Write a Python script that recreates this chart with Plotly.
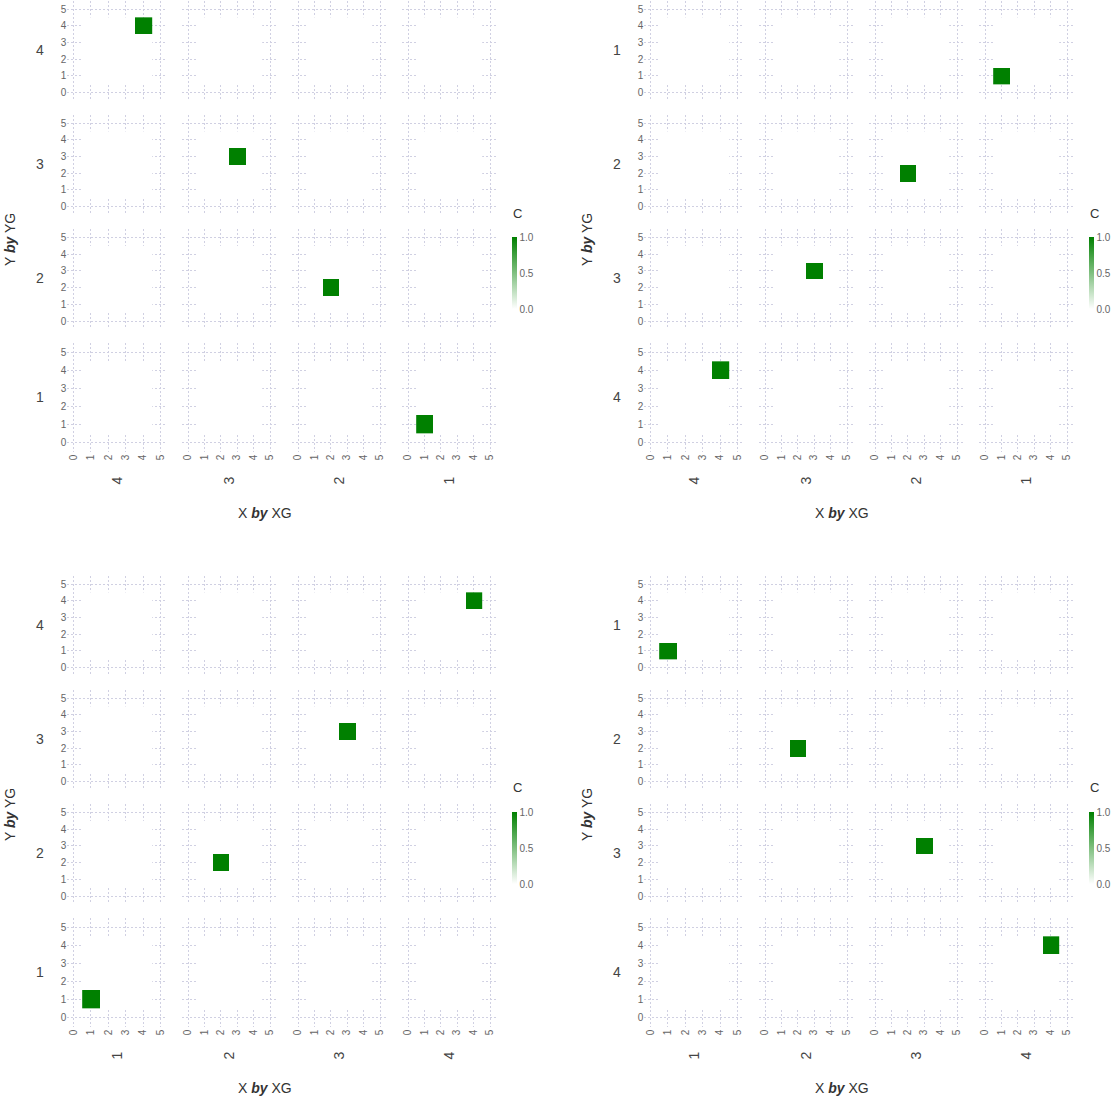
import plotly.graph_objects as go

# ---------------- data ----------------
GROUPS = [1, 2, 3, 4]
X = [1, 2, 3, 4]
Y = [1, 2, 3, 4]
XG = [1, 2, 3, 4]
YG = [1, 2, 3, 4]
C = [1.0, 1.0, 1.0, 1.0]
AXIS_TICKS = [0, 1, 2, 3, 4, 5]
CBAR_TICKS = [0.0, 0.5, 1.0]
CBAR_TEXT = ["0.0", "0.5", "1.0"]

# facet orders per panel (TL, TR, BL, BR)
PANEL_COL_ORDER = [[4, 3, 2, 1], [4, 3, 2, 1], [1, 2, 3, 4], [1, 2, 3, 4]]
PANEL_ROW_ORDER = [[4, 3, 2, 1], [1, 2, 3, 4], [4, 3, 2, 1], [1, 2, 3, 4]]

# ---------------- geometry (screen pixels) ----------------
W, H = 1112, 1098
COL_X0 = [73.5, 188, 298, 408]
COL_X5 = [160.5, 270, 380, 490]
ROW_Y5 = [9, 123, 237.5, 352.3]
ROW_Y0 = [92.5, 206.7, 321, 442.7]
PANEL_DX = [0, 577, 0, 577]
PANEL_DY = [0, 0, 575, 575]
XPAD = [0.35, 0.4]
YPAD = [0.5, 0.5]

FONT = "Liberation Sans, Arial, sans-serif"
GRID = "#d0d0e2"

fig = go.Figure()
layout = {}
annotations = []


def px_x(v):
    return v / W


def px_y(v):
    return 1 - v / H


ax = 0
for p in range(4):
    dx, dy = PANEL_DX[p], PANEL_DY[p]
    for ri, yg in enumerate(PANEL_ROW_ORDER[p]):
        ppu_y = (ROW_Y0[ri] - ROW_Y5[ri]) / 5
        top = max(ROW_Y5[ri] - YPAD[1] * ppu_y + dy, 0)
        bot = ROW_Y0[ri] + YPAD[0] * ppu_y + dy
        yr = [-(bot - ROW_Y0[ri] - dy) / ppu_y, 5 + (ROW_Y5[ri] + dy - top) / ppu_y]
        for ci, xg in enumerate(PANEL_COL_ORDER[p]):
            ppu_x = (COL_X5[ci] - COL_X0[ci]) / 5
            left = COL_X0[ci] - XPAD[0] * ppu_x + dx
            right = COL_X5[ci] + XPAD[1] * ppu_x + dx
            ax += 1
            sfx = "" if ax == 1 else str(ax)
            z = []
            for yv in GROUPS:
                row = []
                for xv in GROUPS:
                    val = 0.0
                    for k in range(len(C)):
                        if XG[k] == xg and YG[k] == yg and X[k] == xv and Y[k] == yv:
                            val += C[k]
                    row.append(val)
                z.append(row)
            fig.add_trace(go.Heatmap(
                x=GROUPS, y=GROUPS, z=z,
                coloraxis="coloraxis" + ("" if p == 0 else str(p + 1)),
                xaxis="x" + sfx, yaxis="y" + sfx, hoverinfo="skip",
            ))
            layout["xaxis" + sfx] = dict(
                domain=[px_x(left), px_x(right)], range=[-XPAD[0], 5 + XPAD[1]],
                anchor="y" + sfx,
                tickvals=AXIS_TICKS, showticklabels=(ri == 3), tickangle=-90,
                showgrid=True, gridcolor=GRID, griddash="2px,2px", gridwidth=1,
                zeroline=False, showline=False, ticks="",
                tickfont=dict(size=10, color="#666", family=FONT), fixedrange=True,
            )
            layout["yaxis" + sfx] = dict(
                domain=[px_y(bot), px_y(top)], range=yr, anchor="x" + sfx,
                tickvals=AXIS_TICKS, showticklabels=(ci == 0),
                showgrid=True, gridcolor=GRID, griddash="2px,2px", gridwidth=1,
                zeroline=False, showline=False, ticks="",
                tickfont=dict(size=10, color="#666", family=FONT), fixedrange=True,
            )
            if ri == 3:
                annotations.append(dict(
                    text=str(xg), x=px_x((left + right) / 2), y=px_y(480 + dy),
                    xref="paper", yref="paper", showarrow=False, textangle=-90,
                    font=dict(size=14, color="#444", family=FONT),
                    xanchor="center", yanchor="middle",
                ))
        annotations.append(dict(
            text=str(yg), x=px_x(40 + dx), y=px_y((ROW_Y5[ri] + ROW_Y0[ri]) / 2 - 1 + dy),
            xref="paper", yref="paper", showarrow=False,
            font=dict(size=14, color="#444", family=FONT),
            xanchor="center", yanchor="middle",
        ))
    annotations.append(dict(
        text="X <b><i>by</i></b> XG", x=px_x(265 + dx), y=px_y(513 + dy),
        xref="paper", yref="paper", showarrow=False,
        font=dict(size=14, color="#333", family=FONT),
        xanchor="center", yanchor="middle",
    ))
    annotations.append(dict(
        text="Y <b><i>by</i></b> YG", x=px_x(10 + dx), y=px_y(240 + dy),
        xref="paper", yref="paper", showarrow=False, textangle=-90,
        font=dict(size=14, color="#333", family=FONT),
        xanchor="center", yanchor="middle",
    ))
    annotations.append(dict(
        text="C", x=px_x(511 + dx), y=px_y(213 + dy),
        xref="paper", yref="paper", showarrow=False,
        font=dict(size=13, color="#333", family=FONT),
        xanchor="left", yanchor="middle",
    ))
    layout["coloraxis" + ("" if p == 0 else str(p + 1))] = dict(
        cmin=0, cmax=1, colorscale=[[0, "#ffffff"], [1, "#008000"]],
        colorbar=dict(
            thickness=5, len=72, lenmode="pixels",
            x=px_x(512 + dx), xanchor="left", y=px_y(237 + dy), yanchor="top",
            xpad=0, ypad=0, outlinewidth=0, ticks="",
            tickvals=CBAR_TICKS, ticktext=CBAR_TEXT,
            tickfont=dict(size=10, color="#666", family=FONT),
        ),
    )

fig.update_layout(
    width=W, height=H, margin=dict(l=0, r=0, t=0, b=0),
    paper_bgcolor="white", plot_bgcolor="white",
    showlegend=False, annotations=annotations,
    font=dict(family=FONT),
    **layout,
)
fig.write_html(
    "out.html",
    config={"displayModeBar": False},
    post_script=(
        "document.body.style.margin='0';"
        "document.body.style.overflow='hidden';"
        "document.documentElement.style.overflow='hidden';"
    ),
)
